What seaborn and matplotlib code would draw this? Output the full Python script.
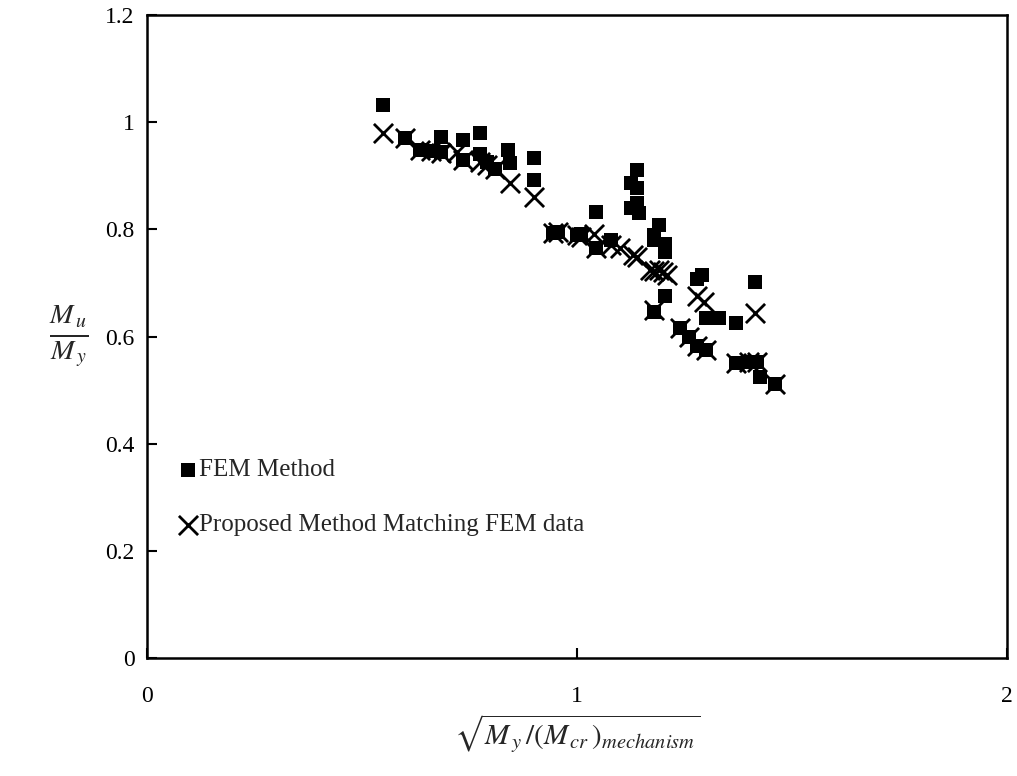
import matplotlib
matplotlib.use("Agg")
import matplotlib.pyplot as plt
import seaborn as sns
import pandas as pd

fem_x = [0.55, 0.60, 0.635, 0.66, 0.685, 0.685, 0.735, 0.735, 0.775, 0.775, 0.79, 0.81,
         0.84, 0.845, 0.90, 0.90, 0.945, 0.955, 1.00, 1.01, 1.045, 1.045, 1.08,
         1.125, 1.14, 1.14, 1.125, 1.14, 1.145, 1.18, 1.19, 1.18, 1.205, 1.205,
         1.205, 1.18, 1.24, 1.26, 1.28, 1.30, 1.28, 1.29, 1.30, 1.33, 1.37, 1.415,
         1.37, 1.40, 1.42, 1.425, 1.46]
fem_y = [1.032, 0.970, 0.948, 0.946, 0.944, 0.972, 0.966, 0.929, 0.979, 0.940, 0.925, 0.913,
         0.948, 0.923, 0.933, 0.892, 0.793, 0.795, 0.789, 0.792, 0.832, 0.765, 0.780,
         0.886, 0.910, 0.877, 0.840, 0.850, 0.830, 0.790, 0.808, 0.780, 0.772, 0.758,
         0.676, 0.645, 0.615, 0.600, 0.582, 0.575, 0.708, 0.715, 0.634, 0.634, 0.625, 0.702,
         0.550, 0.552, 0.552, 0.525, 0.512]

prop_x = [0.55, 0.60, 0.635, 0.66, 0.685, 0.72, 0.735, 0.775, 0.79, 0.81, 0.845, 0.90,
          0.945, 0.955, 1.00, 1.01, 1.04, 1.045, 1.08, 1.10, 1.13, 1.14, 1.17, 1.18,
          1.19, 1.20, 1.21, 1.18, 1.24, 1.26, 1.28, 1.30, 1.28, 1.295, 1.37, 1.40,
          1.42, 1.415, 1.46]
prop_y = [0.980, 0.970, 0.948, 0.946, 0.942, 0.945, 0.929, 0.925, 0.920, 0.913, 0.887, 0.860,
          0.793, 0.795, 0.789, 0.786, 0.792, 0.765, 0.770, 0.765, 0.752, 0.748, 0.725, 0.722,
          0.724, 0.720, 0.715, 0.650, 0.615, 0.600, 0.582, 0.575, 0.676, 0.665, 0.550, 0.552,
          0.552, 0.644, 0.512]

x_ticks = [0, 1, 2]
x_tick_labels = ["0", "1", "2"]
y_ticks = [0, 0.2, 0.4, 0.6, 0.8, 1.0, 1.2]
y_tick_labels = ["0", "0.2", "0.4", "0.6", "0.8", "1", "1.2"]

sns.set_theme(style="ticks")
plt.rcParams['font.family'] = ['Liberation Serif', 'DejaVu Serif']
plt.rcParams['mathtext.fontset'] = 'stix'

fig = plt.figure(figsize=(10.17, 7.76), dpi=100)
ax = fig.add_axes([0.1445, 0.152, 0.8455, 0.8287])

fem = pd.DataFrame({"x": fem_x, "y": fem_y})
prop = pd.DataFrame({"x": prop_x, "y": prop_y})

sns.scatterplot(data=fem, x="x", y="y", ax=ax, marker="s", s=95, color="black",
                edgecolor="black", linewidth=0, label="FEM Method", zorder=3)
sns.scatterplot(data=prop, x="x", y="y", ax=ax, marker="x", s=190, color="black",
                linewidth=2.0, label="Proposed Method Matching FEM data", zorder=4)

ax.set_xlim(0, 2)
ax.set_ylim(0, 1.2)
ax.set_xticks(x_ticks)
ax.set_xticklabels(x_tick_labels)
ax.set_yticks(y_ticks)
ax.set_yticklabels(y_tick_labels)
ax.tick_params(direction="in", length=7, width=1.5, labelsize=17, colors="black")
ax.tick_params(axis="y", pad=9)
ax.tick_params(axis="x", pad=20)
for sp in ax.spines.values():
    sp.set_linewidth(1.8)
    sp.set_color("black")
    sp.set_visible(True)

ax.set_xlabel(r"$\sqrt{M_{\,y}\,/(M_{\,cr}\,)_{mechanism}}$", fontsize=21, labelpad=4)
ax.set_ylabel(r"$\frac{M_{\,u}}{M_{\,y}}$", fontsize=29, rotation=0, labelpad=26, va="center")

leg = ax.legend(loc="upper left", bbox_to_anchor=(0.0, 0.345), frameon=False,
                fontsize=18, labelspacing=1.3, handletextpad=-0.3, markerscale=1.0,
                borderaxespad=0.5, handlelength=1.5)

fig.savefig("out.png", dpi=100)
